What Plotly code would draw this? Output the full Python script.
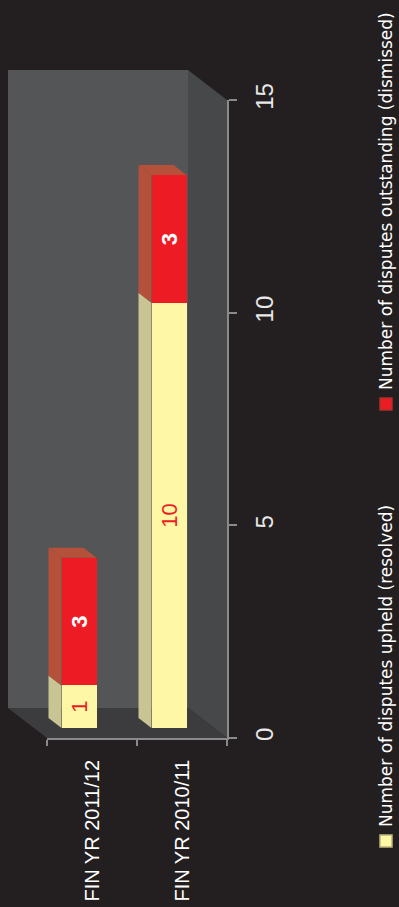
import plotly.graph_objects as go

# ---- data -------------------------------------------------------------
categories = ["FIN YR 2011/12", "FIN YR 2010/11"]
upheld = [1, 10]          # Number of disputes upheld (resolved)
outstanding = [3, 3]      # Number of disputes outstanding (dismissed)
series_names = [
    "Number of disputes upheld (resolved)",
    "Number of disputes outstanding (dismissed)",
]
value_ticks = [0, 5, 10, 15]

# ---- styling ----------------------------------------------------------
BG = "#231f20"
CREAM, CREAM_SIDE = "#fef7a5", "#c9c493"
RED, RED_SIDE = "#ed1c24", "#b5503a"
BACK_WALL, SIDE_WALL, FLOOR = "#545557", "#47484a", "#3c3c3e"
AXIS = "#8a8a8c"
FONT = "Liberation Sans"

W, H = 399, 907
ML, MR, MT, MB = 47, 172, 100, 169
PW, PH = W - ML - MR, H - MT - MB

X0, X1 = 0, 2            # category axis range (slot edges)
Y0, Y1 = 0, 15           # value axis range
DX = (13 / PW) * (X1 - X0)   # one unit of depth, in x data units
DY = (10 / PH) * (Y1 - Y0)   # one unit of depth, in value units
BAR_W = 35 / PW * (X1 - X0)


def paper_x(x):
    return (x - X0) / (X1 - X0)


def paper_y(y):
    return (y - Y0) / (Y1 - Y0)


def px_x(p):
    return (p - ML) / PW


def px_y(p):
    return (H - MB - p) / PH


fig = go.Figure()

# ---- box walls (3 depth units deep) -------------------------------------
d = 3
shapes = []


def poly(pts, color):
    path = "M " + " L ".join(f"{paper_x(x)},{paper_y(y)}" for x, y in pts) + " Z"
    return dict(type="path", path=path, xref="paper", yref="paper",
                fillcolor=color, line=dict(width=0), layer="below")


shapes.append(poly([(X0 - d * DX, Y0 + d * DY), (X1 - d * DX, Y0 + d * DY),
                    (X1 - d * DX, Y1 + d * DY), (X0 - d * DX, Y1 + d * DY)], BACK_WALL))
shapes.append(poly([(X1, Y0), (X1, Y1), (X1 - d * DX, Y1 + d * DY),
                    (X1 - d * DX, Y0 + d * DY)], SIDE_WALL))
shapes.append(poly([(X0, Y0), (X1, Y0), (X1 - d * DX, Y0 + d * DY),
                    (X0 - d * DX, Y0 + d * DY)], FLOOR))

# ---- bars: side and top faces --------------------------------------------
centers = [i + 0.5 for i in range(len(categories))]
front_x = [c - DX for c in centers]

segments = [(upheld, [0] * len(upheld), CREAM, CREAM_SIDE),
            (outstanding, upheld, RED, RED_SIDE)]

for vals, starts, _, side_col in segments:
    for fx, v, s in zip(front_x, vals, starts):
        xl = fx - BAR_W / 2
        y0, y1 = s + DY, s + v + DY
        fig.add_trace(go.Scatter(
            x=[xl, xl, xl - DX, xl - DX, xl],
            y=[y0, y1, y1 + DY, y0 + DY, y0],
            fill="toself", fillcolor=side_col, mode="lines",
            line=dict(width=0), hoverinfo="skip", showlegend=False))

# top faces of the stacks
for fx, a, b in zip(front_x, upheld, outstanding):
    xl, xr = fx - BAR_W / 2, fx + BAR_W / 2
    top = a + b + DY
    fig.add_trace(go.Scatter(
        x=[xl, xr, xr - DX, xl - DX, xl],
        y=[top, top, top + DY, top + DY, top],
        fill="toself", fillcolor=RED_SIDE, mode="lines",
        line=dict(width=0), hoverinfo="skip", showlegend=False))

# ---- bars: front faces ---------------------------------------------------
fig.add_trace(go.Bar(
    x=front_x, y=upheld, base=[DY] * len(upheld), width=BAR_W,
    marker=dict(color=CREAM, line=dict(width=0)),
    text=upheld, textposition="inside", insidetextanchor="middle",
    textangle=-90, constraintext="none",
    textfont=dict(family=FONT, size=22, color=RED),
    name=series_names[0], hoverinfo="skip", showlegend=False))
fig.add_trace(go.Bar(
    x=front_x, y=outstanding, base=[u + DY for u in upheld], width=BAR_W,
    marker=dict(color=RED, line=dict(width=0)),
    text=outstanding, textposition="inside", insidetextanchor="middle",
    textangle=-90, constraintext="none",
    textfont=dict(family=FONT, size=22, color="white", weight="bold"),
    name=series_names[1], hoverinfo="skip", showlegend=False))

# ---- legend (rotated) ----------------------------------------------------
annotations = []
legend_items = [
    (series_names[0], CREAM, "#bdb67e", 841),
    (series_names[1], RED, "#a8322a", 404),
]
for name, col, edge, cy in legend_items:
    shapes.append(dict(type="rect", xref="paper", yref="paper",
                       x0=px_x(380), x1=px_x(392), y0=px_y(cy + 6), y1=px_y(cy - 6),
                       fillcolor=col, line=dict(color=edge, width=1.5)))
    annotations.append(dict(
        text=name, textangle=-90, showarrow=False,
        xref="paper", yref="paper", x=px_x(386), y=px_y(cy - 12),
        xanchor="center", yanchor="bottom",
        font=dict(family="DejaVu Sans", size=17, color="white")))

fig.update_layout(
    width=W, height=H,
    margin=dict(l=ML, r=MR, t=MT, b=MB, pad=0, autoexpand=False),
    paper_bgcolor=BG, plot_bgcolor="rgba(0,0,0,0)",
    barmode="overlay", bargap=0,
    shapes=shapes, annotations=annotations,
    showlegend=False,
    xaxis=dict(
        range=[X0, X1], fixedrange=True, automargin=False,
        tickvals=centers, ticktext=categories, tickangle=-90,
        ticks="", ticklabelstandoff=12,
        tickfont=dict(family=FONT, size=20, color="white"),
        showgrid=False, zeroline=False,
        showline=True, linecolor=AXIS, linewidth=2,
        minor=dict(tick0=0, dtick=1, ticks="outside", ticklen=6,
                   tickwidth=2, tickcolor=AXIS, showgrid=False),
    ),
    yaxis=dict(
        range=[Y0, Y1], side="right", fixedrange=True, automargin=False,
        tickvals=value_ticks, ticks="outside", ticklen=8, tickwidth=2,
        tickcolor=AXIS, tickangle=-90, ticklabelstandoff=7,
        tickfont=dict(family=FONT, size=24, color="#e8e8e8"),
        showgrid=False, zeroline=False,
        showline=True, linecolor=AXIS, linewidth=2,
    ),
)

fig.write_html("out.html")
